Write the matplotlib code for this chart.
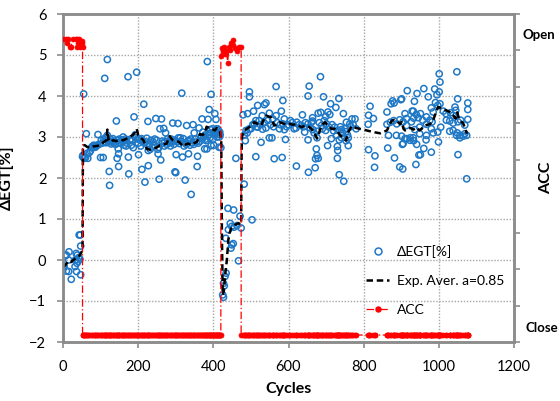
import numpy as np
import matplotlib
matplotlib.use("Agg")
import matplotlib.pyplot as plt
from matplotlib.lines import Line2D

plt.rcParams['font.family'] = ['Lato', 'DejaVu Sans']

# ---------------------------------------------------------------- data
# Delta EGT per recorded cycle
egt_cycles = [
    1, 3, 6, 9, 9, 15, 15, 16, 22, 32, 33, 35, 36, 37, 38, 40, 42, 43, 45, 46, 47, 47,
    52, 53, 55, 56, 58, 60, 62, 64, 66, 70, 73, 76, 78, 82, 84, 86, 88, 91, 93, 96,
    100, 102, 105, 107, 109, 111, 111, 113, 115, 118, 118, 120, 123, 124, 124, 126,
    128, 131, 133, 135, 137, 140, 142, 144, 145, 147, 148, 148, 150, 153, 156, 158,
    160, 162, 163, 166, 168, 170, 173, 174, 175, 178, 180, 182, 185, 187, 189, 192,
    194, 196, 198, 200, 201, 204, 207, 209, 210, 212, 215, 216, 218, 220, 223, 226,
    227, 227, 230, 232, 234, 237, 240, 242, 244, 247, 249, 252, 253, 255, 256, 258,
    260, 262, 264, 265, 268, 270, 271, 273, 276, 278, 280, 284, 286, 288, 290, 292,
    295, 297, 298, 300, 301, 304, 306, 307, 310, 312, 313, 316, 318, 320, 322, 325,
    326, 328, 329, 332, 334, 335, 338, 340, 341, 344, 346, 348, 349, 352, 355, 357,
    358, 360, 362, 365, 366, 368, 370, 372, 373, 375, 377, 378, 380, 381, 383, 384,
    386, 388, 389, 391, 392, 393, 394, 394, 398, 399, 400, 401, 404, 405, 406, 407,
    409, 410, 411, 412, 414, 415, 416, 417, 418, 420,
    425, 427, 427, 429, 431, 433, 434, 439, 440, 445, 447, 449, 449, 453, 454, 455,
    460, 463, 467, 471, 474,
    479, 482, 483, 485, 487, 490, 491, 496, 496, 496, 500, 503, 505, 507, 509, 513,
    513, 515, 518, 518, 522, 525, 527, 530, 531, 535, 536, 540, 540, 545, 549, 549,
    552, 556, 558, 560, 562, 567, 567, 570, 576, 578, 581, 583, 585, 585, 589, 589,
    592, 595, 600, 605, 610, 615, 620, 621, 622, 628, 634, 637, 640, 643, 645, 652,
    652, 652, 653, 655, 658, 661, 664, 664, 665, 668, 671, 672, 674, 676, 676, 676,
    679, 679, 682, 685, 686, 688, 690, 693, 695, 699, 699, 701, 704, 705, 708, 710,
    712, 714, 716, 720, 723, 726, 728, 730, 730, 731, 732, 734, 735, 735, 738, 741,
    741, 744, 746, 747, 750, 753, 753, 754, 757, 759, 759, 763, 765, 769, 772, 777,
    780, 812, 813, 813, 817, 826, 829, 830, 862, 862, 864, 866, 871, 873, 877, 880,
    881, 882, 887, 888, 896, 896, 899, 901, 901, 903, 904, 905, 905, 910, 910, 914,
    914, 915, 916, 923, 924, 927, 929, 932, 932, 933, 933, 935, 936, 939, 940, 941,
    942, 945, 947, 949, 949, 951, 951, 957, 960, 960, 966, 967, 967, 967, 972, 976,
    980, 980, 980, 982, 985, 985, 989, 991, 995, 997, 997, 999, 1001, 1001, 1003,
    1003, 1005, 1012, 1019, 1020, 1029, 1029, 1031, 1038, 1038, 1038, 1043, 1045,
    1047, 1048, 1049, 1050, 1051, 1051, 1056, 1056, 1058, 1065, 1069, 1069, 1074,
    1074, 1077, 1077, 1077,
]
egt_values = [
    -0.16, -0.15, 0.10, 0.12, -0.27, -0.28, 0.00, 0.20, -0.47, -0.16, 0.00, 0.16,
    -0.28, -0.08, 0.12, -0.03, 0.06, 0.61, 0.02, 0.61, 0.34, -0.36,
    2.52, 2.55, 4.05, 2.48, 2.50, 2.50, 3.08, 2.60, 2.48, 2.62, 2.66, 2.74, 2.77, 2.80,
    2.77, 2.75, 2.78, 2.80, 3.06, 2.82,
    2.50, 2.92, 2.85, 2.50, 2.95, 2.88, 4.43, 2.98, 2.86, 4.89, 3.04, 2.90, 2.16, 2.88,
    1.82, 2.95,
    2.83, 2.90, 2.96, 2.85, 2.90, 2.82, 3.39, 2.48, 2.92, 2.71, 2.59, 2.28, 2.95, 2.86,
    2.93, 2.88,
    3.00, 2.90, 2.80, 2.95, 2.78, 2.85, 4.47, 2.51, 2.10, 2.92, 2.95, 2.80, 2.92, 2.74,
    3.49, 3.05,
    2.98, 4.58, 2.95, 2.85, 2.57, 2.95, 2.78, 2.96, 2.21, 2.90, 3.80, 2.85, 1.90, 2.88,
    2.97, 3.38,
    2.67, 2.30, 2.82, 2.70, 2.92, 2.76, 2.88, 2.80, 2.95, 3.45, 2.92, 2.70, 2.59, 2.75,
    1.97, 3.20,
    2.44, 3.44, 2.90, 2.85, 3.21, 2.78, 2.88, 3.10, 2.82, 2.95, 2.90, 2.86, 2.78, 2.95,
    2.88, 3.34,
    2.82, 2.92, 2.15, 2.13, 2.57, 2.88, 3.33, 2.98, 2.84, 2.98, 2.90, 4.07, 2.51, 2.96,
    2.78, 1.95,
    2.86, 2.82, 3.28, 2.90, 2.59, 2.92, 2.80, 2.95, 1.60, 2.86, 3.30, 2.82, 3.10, 2.95,
    2.88, 2.28,
    2.53, 2.85, 3.22, 2.90, 2.98, 3.00, 3.44, 3.12, 2.98, 3.02, 2.71, 3.05, 2.95, 2.91,
    2.71, 4.84,
    3.43, 3.05, 3.67, 2.98, 3.18, 3.10, 4.04, 2.79, 3.20, 2.95, 3.08, 2.80, 3.57, 3.15,
    3.10, 3.43,
    3.20, 3.00, 3.20, 3.10, 3.15, 2.75, 3.00, 3.12, 3.05, 2.74,
    -0.85, -0.91, -0.57, -0.63, -0.40, 0.53, -0.32, 1.26, 0.74, 0.89, 0.29, 0.82, 0.37,
    0.40, 1.22, 0.80,
    2.48, 0.84, -0.02, 1.07, 0.78,
    3.54, 1.85, 3.05, 2.91, 3.16, 3.10, 3.57, 4.10, 3.98, 3.20, 3.20, 0.98, 3.30, 3.63,
    3.32, 3.40,
    2.52, 3.25, 3.77, 3.24, 3.40, 3.30, 2.87, 3.52, 3.19, 3.35, 3.79, 3.83, 3.22, 3.40,
    3.58, 2.98,
    3.30, 2.98, 3.44, 3.25, 2.47, 4.23, 3.52, 3.35, 3.20, 3.30, 3.63, 2.50, 3.89, 3.32,
    3.44, 3.18,
    2.94, 3.25, 3.30, 3.40, 3.35, 3.20, 3.22, 2.29, 3.36, 3.30, 3.28, 3.54, 3.25, 3.12,
    3.35, 4.00,
    3.32, 2.93, 2.14, 4.24, 3.22, 3.36, 3.47, 3.39, 3.18, 3.10, 2.25, 2.47, 2.71, 3.14,
    2.98, 2.55,
    3.58, 2.48, 3.35, 4.47, 3.60, 3.28, 3.20, 3.98, 3.40, 3.50, 3.16, 3.32, 2.79, 3.61,
    3.24, 3.55,
    3.81, 2.96, 3.30, 3.15, 3.24, 3.72, 3.04, 2.77, 2.48, 2.67, 3.16, 3.94, 2.93, 2.08,
    3.25, 3.18,
    2.98, 3.10, 3.57, 1.92, 3.20, 3.13, 2.91, 3.36, 3.05, 2.98, 2.79, 3.32, 3.25, 3.44,
    3.30, 3.44,
    3.20, 3.31, 3.53, 2.69, 3.75, 3.45, 2.26, 2.54, 3.61, 3.31, 2.73, 3.04, 3.36, 3.81,
    3.88, 3.40,
    3.83, 2.49, 3.04, 3.32, 3.42, 2.27, 3.91, 3.93, 3.02, 2.82, 2.22, 3.37, 2.84, 3.57,
    2.96, 3.45,
    3.28, 2.96, 4.13, 2.92, 2.98, 3.37, 3.63, 3.63, 2.98, 3.46, 2.91, 3.87, 3.18, 2.33,
    3.55, 2.82,
    4.06, 3.47, 2.56, 3.24, 3.08, 3.57, 2.57, 3.41, 4.18, 2.72, 2.93, 3.49, 3.31, 3.04,
    3.98, 3.41,
    3.71, 3.20, 2.63, 3.37, 3.61, 3.10, 4.17, 3.84, 4.03, 3.77, 3.12, 2.88, 4.54, 4.10,
    4.34,
    3.81, 3.24, 3.63, 3.57, 3.41, 3.39, 3.14, 3.59, 3.53, 3.34, 3.16, 3.73, 3.65,
    3.04, 4.59, 3.10, 3.93, 3.37, 2.57, 3.04, 2.98, 3.41, 3.02, 3.29, 3.08, 3.04,
    1.98, 3.83, 3.67, 3.43,
]

# exponential average (a = 0.85) of Delta EGT
ema_cycles = [
    0, 5, 10, 15, 22, 30, 36, 42, 48, 52, 53, 58, 64, 71, 80, 90, 98, 106, 112, 116,
    118, 121, 125, 133, 141, 151, 160, 169, 177, 186, 192, 196, 200, 205, 214, 223,
    231, 240, 249, 258, 267, 276, 280, 284, 289, 293, 301, 309, 315, 320, 327, 333,
    342, 349, 356, 360, 364, 371, 378, 382, 389, 396, 404, 409, 413, 418, 421, 423,
    425, 428, 431, 436, 440, 443, 447, 452, 458, 463, 467, 471, 474, 475, 476, 478,
    482, 489, 496, 503, 509, 518, 527, 533, 540, 547, 554, 562, 569, 576, 583, 589,
    596, 603, 612, 621, 627, 634, 640, 647, 654, 661, 666, 670, 676, 682, 688, 697,
    705, 714, 723, 729, 737, 746, 753, 759, 768, 780, 799, 826, 844, 862, 868, 875,
    882, 888, 897, 901, 906, 910, 918, 925, 932, 941, 949, 956, 963, 970, 976, 985,
    992, 998, 1002, 1007, 1014, 1020, 1029, 1038, 1045, 1049, 1052, 1056, 1065, 1072,
    1075,
]
ema_values = [
    -0.16, -0.14, -0.08, -0.02, -0.05, 0.02, 0.05, 0.08, 0.17, 0.25, 2.80, 2.80, 2.76,
    2.74, 2.77, 2.78, 2.80, 2.86, 2.90, 2.92,
    3.18, 2.95, 2.88, 2.92, 2.90, 2.93, 2.92, 2.96, 3.00, 3.05, 3.12, 3.20, 3.05, 3.00,
    2.92, 2.71,
    2.69, 2.72, 2.74, 2.80, 2.82, 2.84, 2.95, 3.02, 2.95, 2.92, 2.90, 2.88, 2.82, 2.77,
    2.82, 2.84,
    2.80, 2.85, 2.88, 2.95, 3.07, 3.05, 3.10, 3.25, 3.22, 3.20, 3.16, 3.22, 3.20, 3.12,
    2.90, 0.50,
    -0.85, -0.75, -0.40, 0.00, 0.50, 0.65, 0.76, 0.82, 0.86, 0.88, 0.90, 0.86, 0.90,
    2.40, 3.00, 3.05,
    3.16, 3.20, 3.24, 3.30, 3.36, 3.32, 3.28, 3.40, 3.52, 3.50, 3.48, 3.28, 3.30, 3.36,
    3.34, 3.32,
    3.30, 3.32, 3.30, 3.31, 3.28, 3.24, 3.26, 3.28, 3.25, 3.20, 3.14, 3.08, 2.96, 3.12,
    3.28, 3.36,
    3.28, 3.20, 3.20, 3.16, 3.04, 2.98, 2.91, 3.12, 3.26, 3.22, 3.18, 3.12, 3.09, 3.16,
    3.28, 3.40,
    3.42, 3.40, 3.31, 3.37, 3.20, 3.16, 3.20, 3.22, 3.18, 3.23, 3.16, 3.22, 3.28, 3.30,
    3.31, 3.41,
    3.59, 3.73, 3.72, 3.69, 3.66, 3.65, 3.61, 3.53, 3.45, 3.60, 3.50, 3.41, 3.33, 3.16,
    3.08,
]

# ACC valve position [% open] while open; closed samples sit at 0
acc_open1_cycles = [1, 7, 10, 12, 19, 21, 26, 35, 38, 38, 40, 43, 45, 46, 50, 51, 52]
acc_open1_values = [100, 100, 98.8, 100, 97.5, 97.5, 100, 100, 100, 97.5, 98.8, 100,
                    99.3, 97.5, 98.8, 99.3, 97.5]
acc_open2_cycles = [420, 424, 427, 429, 431, 435, 438, 442, 444, 447, 451, 453, 458,
                    462, 467, 474]
acc_open2_values = [94.5, 97.2, 96.1, 97.5, 95.0, 96.1, 92.1, 97.6, 96.3, 98.9, 98.1,
                    99.7, 97.2, 96.1, 97.6, 97.5]
ACC_CLOSED = 0.0
acc_close_windows = [(52, 420), (474, 1200)]

x_ticks = [0, 200, 400, 600, 800, 1000, 1200]
y_ticks = [-2, -1, 0, 1, 2, 3, 4, 5, 6]

# ---------------------------------------------------------------- figure
GRID = '#A6A6A6'
SPINE = '#8C8C8C'
BLUE = '#1F78C6'

fig = plt.figure(figsize=(5.6, 4.01), dpi=100)
ax = fig.add_axes([63 / 560, 59 / 401, 451 / 560, 328 / 401])

ax.set_xlim(0, 1200)
ax.set_ylim(-2, 6)
ax.set_xticks(x_ticks)
ax.set_yticks(y_ticks)
ax.grid(True, color=GRID, linestyle=(0, (1, 1.2)), linewidth=1.0)
ax.set_axisbelow(True)

sc = ax.scatter(egt_cycles, egt_values, s=20, facecolors='none', edgecolors=BLUE,
                linewidths=1.1, zorder=3, label='ΔEGT[%]')
ema_line, = ax.plot(ema_cycles, ema_values, color='black', linewidth=1.8,
                    dashes=(2.6, 1.5), zorder=4, label='Exp. Aver. a=0.85')

ax.tick_params(axis='both', direction='out', length=4, width=1.2, color=SPINE,
               labelsize=10.5, labelcolor='black')
ax.tick_params(axis='y', pad=8)
ax.tick_params(axis='x', pad=9)
for sp in ax.spines.values():
    sp.set_color(SPINE)
    sp.set_linewidth(1.8)

ax.set_xlabel('Cycles', fontsize=11.5, fontweight='bold', labelpad=6)
ax.set_ylabel('ΔEGT[%]', fontsize=11.5, fontweight='bold')
ax.yaxis.set_label_coords(-0.108, 0.5)

# ACC on the secondary axis
egt_c = np.asarray(egt_cycles)
acc_c = list(acc_open1_cycles)
acc_v = list(acc_open1_values)
lo, hi = acc_close_windows[0]
closed1 = egt_c[(egt_c >= lo) & (egt_c <= hi)]
acc_c += list(closed1)
acc_v += [ACC_CLOSED] * len(closed1)
acc_c += acc_open2_cycles
acc_v += acc_open2_values
lo, hi = acc_close_windows[1]
closed2 = egt_c[(egt_c >= lo) & (egt_c <= hi)]
acc_c += list(closed2)
acc_v += [ACC_CLOSED] * len(closed2)

ax2 = ax.twinx()
r0, r1 = -2.358, 108.6
ax2.set_ylim(r0, r1)
ax2.set_yticks(np.linspace(r0, r1, 10))
ax2.set_yticklabels([])
ax2.tick_params(axis='y', direction='out', length=4, width=1.2, color=SPINE)
for sp in ax2.spines.values():
    sp.set_color(SPINE)
    sp.set_linewidth(1.8)
acc_line, = ax2.plot(acc_c, acc_v, color='red', linewidth=0.9,
                     linestyle=(0, (6, 2, 1, 2)), marker='o', markersize=3.6,
                     markerfacecolor='red', markeredgecolor='red',
                     markeredgewidth=0.5, zorder=5, label='ACC')

ax2.text(1.019, 0.936, 'Open', transform=ax2.transAxes, fontsize=9.5,
         fontweight='bold', va='center', ha='left')
ax2.text(1.026, 0.043, 'Close', transform=ax2.transAxes, fontsize=9.5,
         fontweight='bold', va='center', ha='left')
ax2.text(1.071, 0.5, 'ACC', transform=ax2.transAxes, fontsize=11.5,
         fontweight='bold', va='center', ha='center', rotation=90)

leg_handles = [
    Line2D([], [], linestyle='none', marker='o', markersize=5, markerfacecolor='none',
           markeredgecolor=BLUE, markeredgewidth=1.1),
    Line2D([], [], color='black', linewidth=1.8, dashes=(2.6, 1.5)),
    Line2D([], [], color='red', linewidth=0.9, linestyle=(0, (6, 2, 1, 2)),
           marker='o', markersize=3.6, markerfacecolor='red', markeredgecolor='red'),
]
ax2.legend(leg_handles, ['ΔEGT[%]', 'Exp. Aver. a=0.85', 'ACC'],
           loc='upper left', bbox_to_anchor=(0.645, 0.335), frameon=False,
           fontsize=10, handlelength=1.6, handletextpad=0.6, labelspacing=1.25)

fig.savefig('out.png', dpi=100)
